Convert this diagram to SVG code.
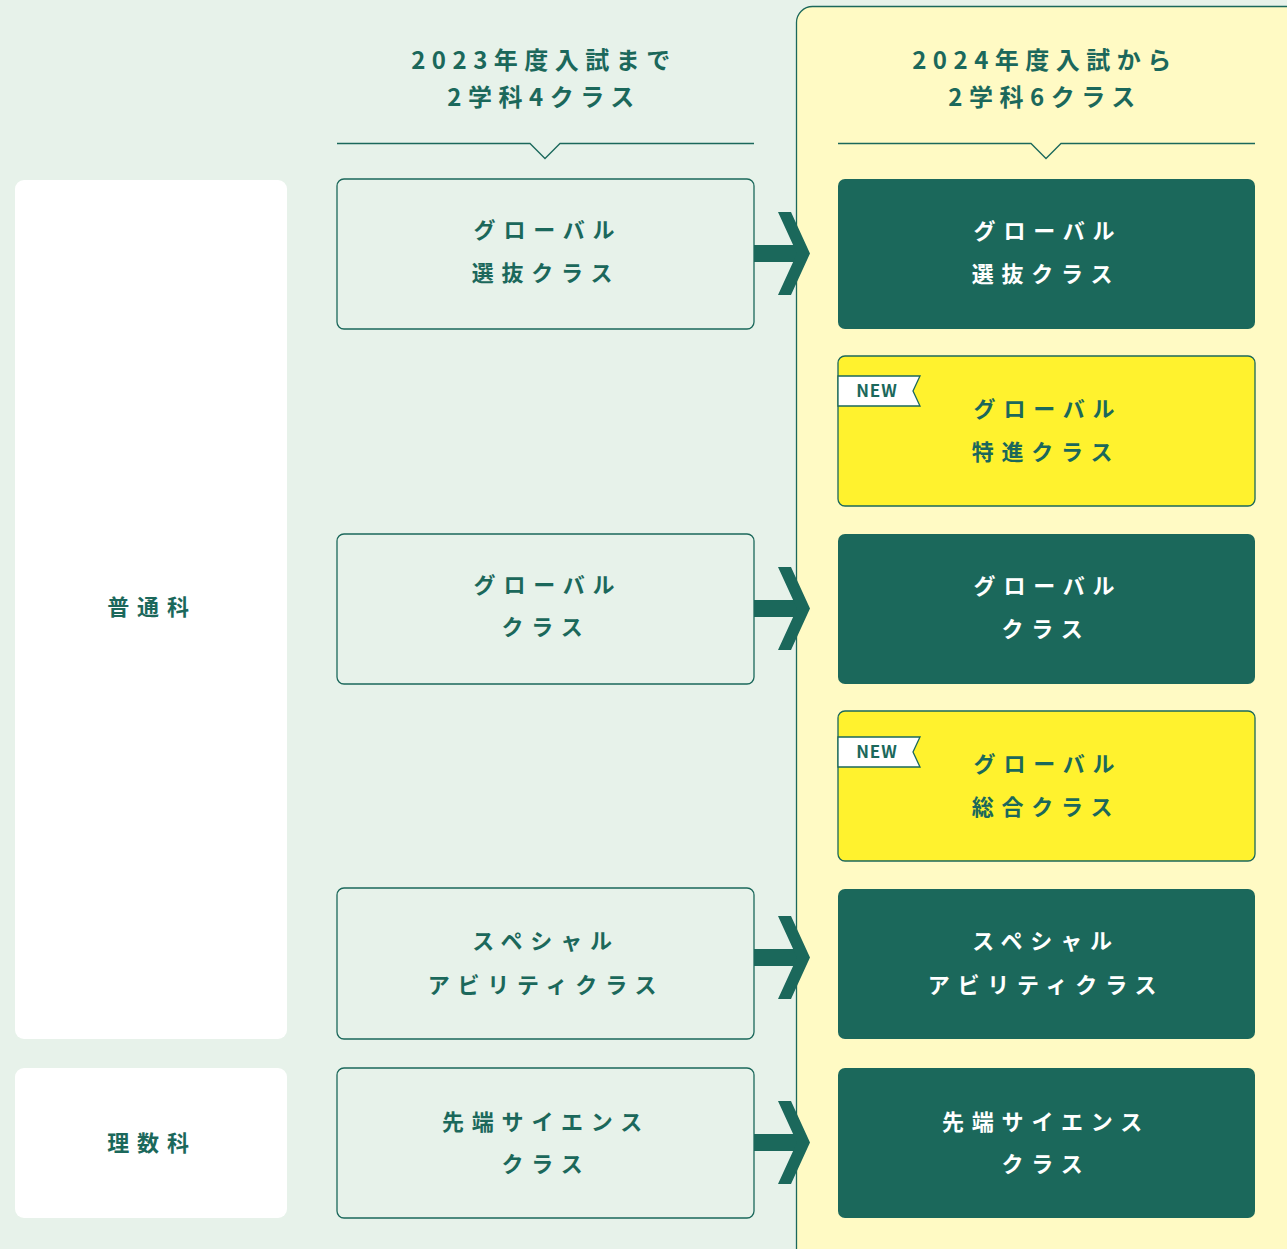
<svg xmlns="http://www.w3.org/2000/svg" width="1287" height="1249" viewBox="0 0 1287 1249">
<style>
text{font-family:"Noto Sans CJK JP","Noto Sans",sans-serif;font-weight:700;fill:#1b685b;text-anchor:middle}
.h{font-size:24px;letter-spacing:6.5px}
.b{font-size:22px;letter-spacing:7.8px}
.w{fill:#ffffff}
.old{fill:#e7f2ea;stroke:#1b685b;stroke-width:1.3}
.dk{fill:#1b685b}
.ye{fill:#fff22e;stroke:#1b685b;stroke-width:1.3}
.dep{fill:#ffffff}
.new{font-size:17px;letter-spacing:1px}
.ln{fill:none;stroke:#1b685b;stroke-width:1.3}
</style>
<rect width="1287" height="1249" fill="#e7f2ea"/>
<rect x="796.5" y="6.5" width="510" height="1260" rx="16" fill="#fffac4" stroke="#1b685b" stroke-width="1.3"/>

<g id="header-2023">
<path class="ln" d="M337 143.5H530L545 158.5L560 143.5H754"/>
<text class="h" x="544" y="69">2023年度入試まで</text>
<text class="h" x="544" y="106">2学科4クラス</text>
</g>
<g id="header-2024">
<path class="ln" d="M838 143.5H1031L1046 158.5L1061 143.5H1255"/>
<text class="h" x="1045" y="69">2024年度入試から</text>
<text class="h" x="1045" y="106">2学科6クラス</text>
</g>

<g id="dept-futsuu">
<rect class="dep" x="15" y="180" width="272" height="859" rx="9"/>
<text class="b" x="152" y="615">普通科</text>
</g>
<g id="dept-risuu">
<rect class="dep" x="15" y="1068" width="272" height="150" rx="9"/>
<text class="b" x="152" y="1151">理数科</text>
</g>

<g id="old-global-senbatsu">
<rect class="old" x="337" y="179" width="417" height="150" rx="7"/>
<text class="b" x="548" y="238">グローバル</text>
<text class="b" x="546" y="281">選抜クラス</text>
</g>
<g id="old-global">
<rect class="old" x="337" y="534" width="417" height="150" rx="7"/>
<text class="b" x="548" y="593">グローバル</text>
<text class="b" x="546" y="635">クラス</text>
</g>
<g id="old-special">
<rect class="old" x="337" y="888" width="417" height="151" rx="7"/>
<text class="b" x="546" y="949">スペシャル</text>
<text class="b" x="546" y="993">アビリティクラス</text>
</g>
<g id="old-sentan">
<rect class="old" x="337" y="1068" width="417" height="150" rx="7"/>
<text class="b" x="546" y="1130">先端サイエンス</text>
<text class="b" x="546" y="1172">クラス</text>
</g>

<g id="new-global-senbatsu">
<rect class="dk" x="838" y="179" width="417" height="150" rx="7"/>
<text class="b w" x="1048" y="239">グローバル</text>
<text class="b w" x="1046" y="282">選抜クラス</text>
</g>
<g id="new-global-tokushin">
<rect class="ye" x="838" y="356" width="417" height="150" rx="7"/>
<path d="M838 376H920L913 391L920 406H838Z" fill="#ffffff" stroke="#1b685b" stroke-width="1.3"/>
<text class="new" x="877" y="397">NEW</text>
<text class="b" x="1048" y="417">グローバル</text>
<text class="b" x="1046" y="460">特進クラス</text>
</g>
<g id="new-global">
<rect class="dk" x="838" y="534" width="417" height="150" rx="7"/>
<text class="b w" x="1048" y="594">グローバル</text>
<text class="b w" x="1046" y="637">クラス</text>
</g>
<g id="new-global-sougou">
<rect class="ye" x="838" y="711" width="417" height="150" rx="7"/>
<path d="M838 737H920L913 752L920 767H838Z" fill="#ffffff" stroke="#1b685b" stroke-width="1.3"/>
<text class="new" x="877" y="758">NEW</text>
<text class="b" x="1048" y="772">グローバル</text>
<text class="b" x="1046" y="815">総合クラス</text>
</g>
<g id="new-special">
<rect class="dk" x="838" y="889" width="417" height="150" rx="7"/>
<text class="b w" x="1046" y="949">スペシャル</text>
<text class="b w" x="1046" y="993">アビリティクラス</text>
</g>
<g id="new-sentan">
<rect class="dk" x="838" y="1068" width="417" height="150" rx="7"/>
<text class="b w" x="1046" y="1130">先端サイエンス</text>
<text class="b w" x="1046" y="1172">クラス</text>
</g>

<g id="connectors" fill="#1b685b">
<g>
<rect x="754" y="245" width="42" height="17"/>
<path d="M778 212H791L810 253.5L791 295H778L797 253.5Z"/>
</g>
<g transform="translate(0,355)">
<rect x="754" y="245" width="42" height="17"/>
<path d="M778 212H791L810 253.5L791 295H778L797 253.5Z"/>
</g>
<g transform="translate(0,704)">
<rect x="754" y="245" width="42" height="17"/>
<path d="M778 212H791L810 253.5L791 295H778L797 253.5Z"/>
</g>
<g transform="translate(0,889)">
<rect x="754" y="245" width="42" height="17"/>
<path d="M778 212H791L810 253.5L791 295H778L797 253.5Z"/>
</g>
</g>
</svg>
